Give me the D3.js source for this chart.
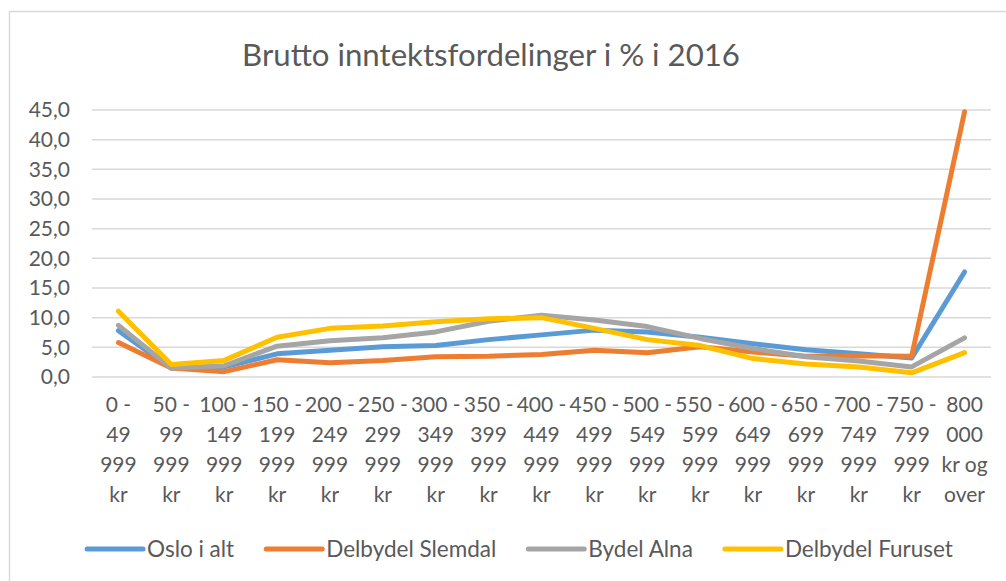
<!DOCTYPE html>
<html lang="no">
<head>
<meta charset="UTF-8">
<title>Brutto inntektsfordelinger</title>
<script src="https://cdn.jsdelivr.net/npm/d3@7"></script>
<style>
    body { margin: 0; background: #fff; }
    text { font-family: Lato, 'Open Sans', sans-serif; fill: #595959; }
</style>
</head>
<body>
<div id="chart"></div>
<script>
    const categories = [
        "0 -\n49\n999\nkr", "50 -\n99\n999\nkr", "100 -\n149\n999\nkr", "150 -\n199\n999\nkr",
        "200 -\n249\n999\nkr", "250 -\n299\n999\nkr", "300 -\n349\n999\nkr", "350 -\n399\n999\nkr",
        "400 -\n449\n999\nkr", "450 -\n499\n999\nkr", "500 -\n549\n999\nkr", "550 -\n599\n999\nkr",
        "600 -\n649\n999\nkr", "650 -\n699\n999\nkr", "700 -\n749\n999\nkr", "750 -\n799\n999\nkr",
        "800\n000\nkr og\nover"
    ]
    const osloIAlt = [7.8, 1.5, 1.7, 3.9, 4.5, 5.1, 5.3, 6.3, 7.1, 7.9, 7.6, 6.7, 5.6, 4.6, 3.9, 3.2, 17.7]
    const slemdal = [5.8, 1.5, 0.9, 2.9, 2.4, 2.8, 3.4, 3.5, 3.8, 4.5, 4.1, 5.1, 4.2, 3.5, 3.6, 3.5, 44.7]
    const alna = [8.7, 1.5, 1.9, 5.2, 6.1, 6.6, 7.6, 9.4, 10.4, 9.6, 8.5, 6.5, 4.8, 3.4, 2.7, 1.7, 6.6]
    const furuset = [11.1, 2.1, 2.8, 6.7, 8.2, 8.6, 9.3, 9.8, 10.0, 8.2, 6.3, 5.3, 3.1, 2.2, 1.7, 0.7, 4.1]
    const seriesNames = ["Oslo i alt", "Delbydel Slemdal", "Bydel Alna", "Delbydel Furuset"]
    const seriesColors = ["#5b9bd5", "#ed7d31", "#a5a5a5", "#ffc000"]
    const yTicks = [0, 5, 10, 15, 20, 25, 30, 35, 40, 45]
    const title = "Brutto inntektsfordelinger i % i 2016"

    const series = [osloIAlt, slemdal, alna, furuset].map((values, i) => ({
        name: seriesNames[i], color: seriesColors[i], values: values
    }))

    const width = 1006, height = 581

    const svg = d3.select("#chart").append("svg")
        .attr("width", width)
        .attr("height", height)

    // chart frame (runs off the right/bottom edge like the reference)
    svg.append("rect")
        .attr("x", 9.5).attr("y", 11.5)
        .attr("width", 1010).attr("height", 600)
        .attr("fill", "#fff")
        .attr("stroke", "#d9d9d9")
        .attr("stroke-width", 1.5)

    const x = d3.scaleBand().domain(categories).range([92, 991])
    const y = d3.scaleLinear().domain([0, 45]).range([377, 110])

    // title, sized to the reference width
    const t = svg.append("text")
        .attr("x", 491).attr("y", 66)
        .attr("text-anchor", "middle")
        .style("font-size", "30px")
        .text(title)
    const tw = t.node().getComputedTextLength()
    t.style("font-size", (30 * 498 / tw) + "px")

    // gridlines
    svg.append("g").selectAll("line")
        .data(yTicks)
        .join("line")
        .attr("x1", 92).attr("x2", 991)
        .attr("y1", d => y(d)).attr("y2", d => y(d))
        .attr("stroke", "#d9d9d9")
        .attr("stroke-width", 1.5)

    // y axis labels
    const fmt = d3.format(".1f")
    svg.append("g")
        .attr("transform", "translate(70,0)")
        .call(d3.axisLeft(y).tickValues(yTicks).tickSize(0).tickPadding(0)
            .tickFormat(d => fmt(d).replace(".", ",")))
        .call(g => g.select(".domain").remove())
        .call(g => g.selectAll("text")
            .attr("font-size", null)
            .style("font-size", "21px")
            .style("font-family", "Lato, 'Open Sans', sans-serif")
            .attr("fill", "#595959"))

    // x axis labels, wrapped over four lines
    const xl = svg.append("g").selectAll("text")
        .data(categories)
        .join("text")
        .attr("text-anchor", "middle")
        .style("font-size", "21px")
    xl.selectAll("tspan")
        .data(d => d.split("\n").map(s => ({ s: s, c: d })))
        .join("tspan")
        .attr("x", d => x(d.c) + x.bandwidth() / 2)
        .attr("y", (d, i) => 412 + i * 30)
        .text(d => d.s)

    // lines
    const line = d3.line()
        .x((d, i) => x(categories[i]) + x.bandwidth() / 2)
        .y(d => y(d))

    svg.append("g").selectAll("path")
        .data(series)
        .join("path")
        .attr("d", d => line(d.values))
        .attr("fill", "none")
        .attr("stroke", d => d.color)
        .attr("stroke-width", 5)
        .attr("stroke-linejoin", "round")
        .attr("stroke-linecap", "round")

    // legend
    const legend = svg.append("g")
    const items = legend.selectAll("g")
        .data(series)
        .join("g")
    items.append("line")
        .attr("x1", 0).attr("x2", 56)
        .attr("y1", 549).attr("y2", 549)
        .attr("stroke", d => d.color)
        .attr("stroke-width", 5)
        .attr("stroke-linecap", "round")
    items.append("text")
        .attr("x", 60).attr("y", 549)
        .attr("dy", "0.35em")
        .style("font-size", "22.5px")
        .text(d => d.name)

    let pos = 0
    const offsets = []
    items.each(function () {
        offsets.push(pos)
        pos += this.getBBox().width + 32
    })
    const total = pos - 32
    const start = 520 - total / 2
    items.attr("transform", (d, i) => `translate(${start + offsets[i]},0)`)
</script>
</body>
</html>
